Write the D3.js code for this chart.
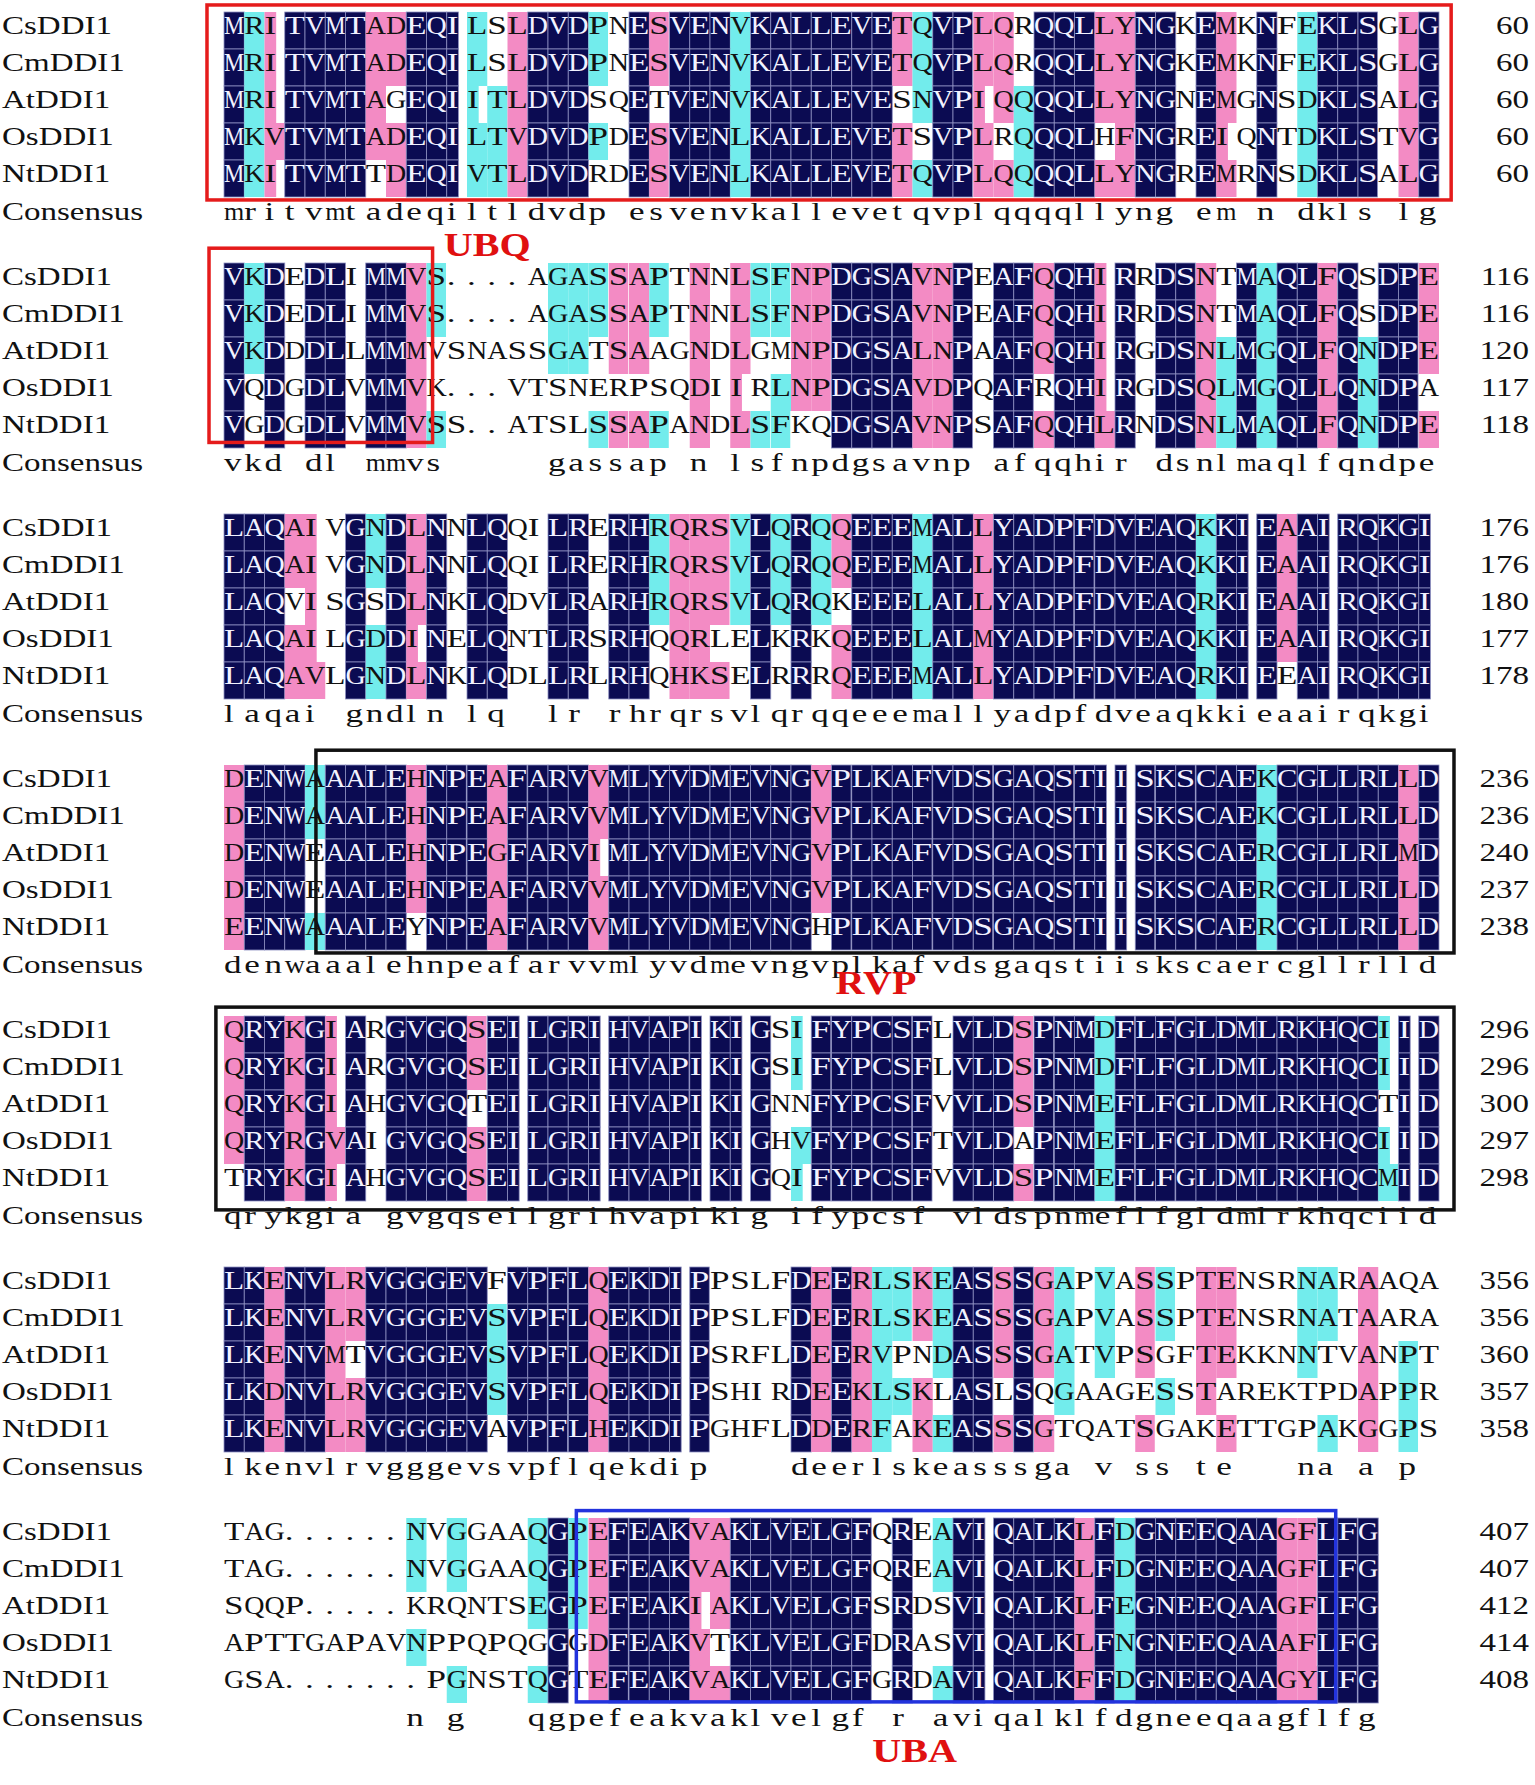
<!DOCTYPE html>
<html>
<head>
<meta charset="utf-8">
<script src="https://d3js.org/d3.v7.min.js"></script>
<style>
  body { margin: 0; background: #fff; }
  svg { display: block; }
</style>
</head>
<body>
<div id="chart"></div>
<script>
// sequence names and alignment blocks (60 columns per block, '.' = gap)
var species = ["CsDDI1", "CmDDI1", "AtDDI1", "OsDDI1", "NtDDI1"];

var csDDI1 = [
  "MRITVMTADEQILSLDVDPNESVENVKALLEVETQVPLQRQQLLYNGKEMKNFEKLSGLG",
  "VKDEDLIMMVS....AGASSAPTNNLSFNPDGSAVNPEAFQQHIRRDSNTMAQLFQSDPE",
  "LAQAIVGNDLNNLQQILRERHRQRSVLQRQQEEEMALLYADPFDVEAQKKIEAAIRQKGI",
  "DENWAAALEHNPEAFARVVMLYVDMEVNGVPLKAFVDSGAQSTIISKSCAEKCGLLRLLD",
  "QRYKGIARGVGQSEILGRIHVAPIKIGSIFYPCSFLVLDSPNMDFLFGLDMLRKHQCIID",
  "LKENVLRVGGGEVFVPFLQEKDIPPSLFDEERLSKEASSSGAPVASSPTENSRNARAAQA",
  "TAG......NVGGAAQGPEFEAKVAKLVELGFQREAVIQALKLFDGNEEQAAGFLFG"
];
var cmDDI1 = [
  "MRITVMTADEQILSLDVDPNESVENVKALLEVETQVPLQRQQLLYNGKEMKNFEKLSGLG",
  "VKDEDLIMMVS....AGASSAPTNNLSFNPDGSAVNPEAFQQHIRRDSNTMAQLFQSDPE",
  "LAQAIVGNDLNNLQQILRERHRQRSVLQRQQEEEMALLYADPFDVEAQKKIEAAIRQKGI",
  "DENWAAALEHNPEAFARVVMLYVDMEVNGVPLKAFVDSGAQSTIISKSCAEKCGLLRLLD",
  "QRYKGIARGVGQSEILGRIHVAPIKIGSIFYPCSFLVLDSPNMDFLFGLDMLRKHQCIID",
  "LKENVLRVGGGEVSVPFLQEKDIPPSLFDEERLSKEASSSGAPVASSPTENSRNATAARA",
  "TAG......NVGGAAQGPEFEAKVAKLVELGFQREAVIQALKLFDGNEEQAAGFLFG"
];
var atDDI1 = [
  "MRITVMTAGEQIITLDVDSQETVENVKALLEVESNVPIQQQQLLYNGNEMGNSDKLSALG",
  "VKDDDLLMMMVSNASSGATSAAGNDLGMNPDGSALNPAAFQQHIRGDSNLMGQLFQNDPE",
  "LAQVISGSDLNKLQDVLRARHRQRSVLQRQKEEELALLYADPFDVEAQRKIEAAIRQKGI",
  "DENWEAALEHNPEGFARVIMLYVDMEVNGVPLKAFVDSGAQSTIISKSCAERCGLLRLMD",
  "QRYKGIAHGVGQTEILGRIHVAPIKIGNNFYPCSFVVLDSPNMEFLFGLDMLRKHQCTID",
  "LKENVMTVGGGEVSVPFLQEKDIPSRFLDEERVPNDASSSGATVPSGFTEKKNNTVANPT",
  "SQQP.....KRQNTSEGPEFEAKIAKLVELGFSRDSVIQALKLFEGNEEQAAGFLFG"
];
var osDDI1 = [
  "MKVTVMTADEQILTVDVDPDESVENLKALLEVETSVPLRQQQLHFNGREIQNTDKLSTVG",
  "VQDGDLVMMVK...VTSNERPSQDIIRLNPDGSAVDPQAFRQHIRGDSQLMGQLLQNDPA",
  "LAQAILGDDINELQNTLRSRHQQRLELKRKQEEELALMYADPFDVEAQKKIEAAIRQKGI",
  "DENWEAALEHNPEAFARVVMLYVDMEVNGVPLKAFVDSGAQSTIISKSCAERCGLLRLLD",
  "QRYRGVAIGVGQSEILGRIHVAPIKIGHVFYPCSFTVLDAPNMEFLFGLDMLRKHQCIID",
  "LKDNVLRVGGGEVSVPFLQEKDIPSHIRDEEKLSKLASLSQGAAGESSTAREKTPDAPPR",
  "APTTGAPAVNPPQPQGGGDFEAKVTKLVELGFDRASVIQALKLFNGNEEQAAAFLFG"
];
var ntDDI1 = [
  "MKITVMTTDEQIVTLDVDRDESVENLKALLEVETQVPLQQQQLLYNGREMRNSDKLSALG",
  "VGDGDLVMMVSS..ATSLSSAPANDLSFKQDGSAVNPSAFQQHLRNDSNLMAQLFQNDPE",
  "LAQAVLGNDLNKLQDLLRLRHQHKSELRRRQEEEMALLYADPFDVEAQRKIEEAIRQKGI",
  "EENWAAALEYNPEAFARVVMLYVDMEVNGHPLKAFVDSGAQSTIISKSCAERCGLLRLLD",
  "TRYKGIAHGVGQSEILGRIHVAPIKIGQIFYPCSFVVLDSPNMEFLFGLDMLRKHQCMID",
  "LKENVLRVGGGEVAVPFLHEKDIPGHFLDDERFAKEASSSGTQATSGAKETTGPAKGGPS",
  "GSA.......PGNSTQGTEFEAKVAKLVELGFGRDAVIQALKFFDGNEEQAAGYLFG"
];
var sequences = [csDDI1, cmDDI1, atDDI1, osDDI1, ntDDI1];

// residue numbers printed at the end of each block
var csEnds = [60, 116, 176, 236, 296, 356, 407];
var cmEnds = [60, 116, 176, 236, 296, 356, 407];
var atEnds = [60, 120, 180, 240, 300, 360, 412];
var osEnds = [60, 117, 177, 237, 297, 357, 414];
var ntEnds = [60, 118, 178, 238, 298, 358, 408];
var endNumbers = [csEnds, cmEnds, atEnds, osEnds, ntEnds];

// domain frames, in alignment units (block, column range, row range)
var domainNames  = ["UBQ", "UBQ", "RVP", "RVP", "UBA"];
var domainBlocks = [0, 1, 3, 4, 6];
var domainCols   = [[-0.84, 60.6], [-0.74, 10.3], [4.54, 60.74], [-0.4, 60.74], [17.4, 54.9]];
var domainRows   = [[-0.19, 5.08], [-0.4, 4.85], [-0.4, 5.08], [-0.24, 5.24], [-0.2, 4.97]];
// domain captions
var captionNames  = ["UBQ", "RVP", "UBA"];
var captionBlocks = [0, 3, 6];
var captionCols   = [13.0, 32.2, 34.1];
var captionRows   = [6.6, 6.2, 6.6];

// residues counted as similar when shading a column
var similarGroups = ["KR", "DENQ", "QH", "ILVM", "LF", "FY", "AG"];

var width = 1535, height = 1785;
var fontSize = 26, stretch = 1.35, labelStretch = 1.27;
var serif = "'Liberation Serif', 'Times New Roman', serif";

var svg = d3.select("#chart").append("svg")
  .attr("width", width)
  .attr("height", height)
  .style("font-family", serif);

// scales: column -> x, block -> y of its first row, row -> offset
var x = d3.scaleLinear().domain([0, 60]).range([224, 224 + 60 * 20.25]);
var yBlock = d3.scaleLinear().domain([0, 6]).range([12, 12 + 6 * 251]);
var yRow = d3.scaleLinear().domain([0, 1]).range([0, 37]);
var pitch = x(1) - x(0);

var ctx = document.createElement("canvas").getContext("2d");
ctx.font = fontSize + "px 'Liberation Serif'";
function glyphWidth(ch) { return ctx.measureText(ch).width; }

function isSimilar(a, b) {
  if (a === b) return true;
  return similarGroups.some(function(g) { return g.indexOf(a) >= 0 && g.indexOf(b) >= 0; });
}

var shade = { 5: "#0b0b52", 4: "#f38bc4", 3: "#72ecec" };

sequences[0].forEach(function(block0, b) {
  var top = yBlock(b);
  var ncol = block0.length;
  var g = svg.append("g");

  // per column: top residue and its count
  var cols = d3.range(ncol).map(function(c) {
    var res = sequences.map(function(s) { return s[b][c]; }).filter(function(ch) { return ch !== "."; });
    var counts = d3.rollups(res, function(v) { return v.length; }, function(d) { return d; });
    counts.sort(function(p, q) { return q[1] - p[1]; });
    return counts.length ? { res: counts[0][0], n: counts[0][1] } : { res: null, n: 0 };
  });

  sequences.forEach(function(seq, s) {
    var rowTop = top + yRow(s);
    var base = rowTop + 22;

    g.append("text")
      .attr("transform", "translate(2," + base + ") scale(" + labelStretch + ",1)")
      .attr("font-size", fontSize)
      .attr("fill", "#111")
      .text(species[s]);

    seq[b].split("").forEach(function(ch, c) {
      var x0 = x(c);
      var w = glyphWidth(ch) * stretch;
      var sx = stretch;
      if (w > pitch) { sx = pitch / glyphWidth(ch); w = pitch; }
      var info = cols[c];
      var level = 0;
      if (ch !== "." && info.n >= 3 && isSimilar(ch, info.res)) level = Math.min(info.n, 5);
      if (level) {
        g.append("rect")
          .attr("x", x0)
          .attr("y", rowTop)
          .attr("width", w)
          .attr("height", yRow(1))
          .attr("fill", shade[level])
          .attr("stroke", level === 5 ? "#8d8fc0" : "none")
          .attr("stroke-width", 0.8);
      }
      g.append("text")
        .attr("transform", "translate(" + x0 + "," + base + ") scale(" + sx + ",1)")
        .attr("font-size", fontSize)
        .attr("fill", level === 5 ? "#f2f2ff" : "#111")
        .text(ch);
    });

    g.append("text")
      .attr("transform", "translate(1529," + base + ") scale(" + labelStretch + ",1)")
      .attr("text-anchor", "end")
      .attr("font-size", fontSize)
      .attr("fill", "#111")
      .text(endNumbers[s][b]);
  });

  // consensus line
  var cBase = top + yRow(5) + 23;
  g.append("text")
    .attr("transform", "translate(2," + cBase + ") scale(" + labelStretch + ",1)")
    .attr("font-size", fontSize)
    .attr("fill", "#111")
    .text("Consensus");
  cols.forEach(function(info, c) {
    if (info.n < 3) return;
    var ch = info.res.toLowerCase();
    var w = glyphWidth(ch) * stretch;
    var sx = w > pitch ? pitch / glyphWidth(ch) : stretch;
    g.append("text")
      .attr("transform", "translate(" + x(c) + "," + cBase + ") scale(" + sx + ",1)")
      .attr("font-size", fontSize)
      .attr("fill", "#111")
      .text(ch);
  });
});

// domain frames
var frameColor = { UBQ: "#e51b1b", RVP: "#111111", UBA: "#2233dd" };
domainNames.forEach(function(name, i) {
  var top = yBlock(domainBlocks[i]);
  svg.append("rect")
    .attr("x", x(domainCols[i][0]))
    .attr("y", top + yRow(domainRows[i][0]))
    .attr("width", x(domainCols[i][1]) - x(domainCols[i][0]))
    .attr("height", yRow(domainRows[i][1]) - yRow(domainRows[i][0]))
    .attr("fill", "none")
    .attr("stroke", frameColor[name])
    .attr("stroke-width", 3.5);
});

// domain captions
captionNames.forEach(function(name, i) {
  svg.append("text")
    .attr("transform", "translate(" + x(captionCols[i]) + "," + (yBlock(captionBlocks[i]) + yRow(captionRows[i])) + ") scale(1.18,1)")
    .attr("text-anchor", "middle")
    .attr("font-size", 34)
    .attr("font-weight", "bold")
    .attr("fill", "#e01010")
    .text(name);
});
</script>
</body>
</html>
